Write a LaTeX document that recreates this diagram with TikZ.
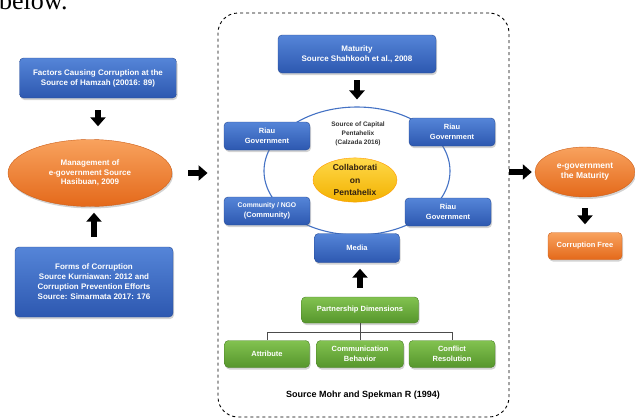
\documentclass[tikz,border=0pt]{standalone}
\usepackage{fontspec}
\setmainfont{Liberation Sans}
\newfontfamily\pageserif{Liberation Serif}
\usetikzlibrary{arrows.meta,shapes.geometric,shadows}

\definecolor{blueTop}{HTML}{5585D8}
\definecolor{blueBot}{HTML}{2D58B0}
\definecolor{orangeTop}{HTML}{F8A25E}
\definecolor{orangeBot}{HTML}{E4691A}
\definecolor{greenTop}{HTML}{82C250}
\definecolor{greenBot}{HTML}{56962C}
\definecolor{yellowTop}{HTML}{FFD94A}
\definecolor{yellowBot}{HTML}{F2B100}
\definecolor{ringBlue}{HTML}{4472C4}

\begin{document}
\begin{tikzpicture}[x=1pt,y=-1pt,
      big arrow/.style={line width=5.5pt,-{Triangle[length=9pt,width=15pt]}},
      soft shadow/.style={drop shadow={opacity=0.35,shadow xshift=1pt,shadow yshift=-2pt}},
      blue box/.style={rectangle,rounded corners=4pt,top color=blueTop,
      bottom color=blueBot,draw=blueBot!85!black,thin,soft shadow,text=white,
      align=center,inner sep=2pt,font=\bfseries\fontsize{8}{10}\selectfont},
      small blue/.style={blue box,minimum width=86pt,minimum height=28pt,
      font=\bfseries\fontsize{7.5}{10}\selectfont},
      green box/.style={blue box,top color=greenTop,bottom color=greenBot,
      draw=greenBot!85!black,minimum height=27pt,
      font=\bfseries\fontsize{7.5}{9.5}\selectfont},
      orange oval/.style={ellipse,top color=orangeTop,bottom color=orangeBot,
      draw=orangeBot!90!black,thin,soft shadow,text=white,align=center,
      inner sep=0pt,font=\bfseries\fontsize{8}{9.5}\selectfont}]

      \useasboundingbox (0,0) rectangle (635,418);

      %% THE PAGE TEXT ABOVE THE FIGURE (CUT OFF AT THE TOP)
      \node[anchor=base west,inner sep=0pt,font=\pageserif\fontsize{26}{26}\selectfont]
            (pagetext) at (-1,9) {below.};

      %% THE DASHED FRAME AND THE PENTAHELIX RING
      \node[draw,dashed,line width=0.9pt,rounded corners=20pt,minimum width=291pt,
            minimum height=404pt] (frame) at (363.5,215) {};
      \node[draw=ringBlue,line width=1.1pt,ellipse,minimum width=186pt,
            minimum height=128pt] (ring) at (357,171) {};

      %% THESE ARE THE NODES ON THE LEFT
      \node[blue box,minimum width=157pt,minimum height=40pt] (factors) at (98,78)
            {Factors Causing Corruption at the\\Source of Hamzah (20016: 89)};
      \node[orange oval,minimum width=164pt,minimum height=67pt] (mgmt) at (90,173)
            {Management of\\e-government Source\\Hasibuan, 2009};
      \node[blue box,minimum width=158pt,minimum height=70pt] (forms) at (94,282)
            {Forms of Corruption\\Source Kurniawan: 2012 and\\Corruption Prevention Efforts\\Source: Simarmata 2017: 176};

      %% THESE ARE THE NODES IN THE FRAME
      \node[blue box,minimum width=158pt,minimum height=38pt] (maturity) at (357,54)
            {Maturity\\Source Shahkooh et al., 2008};
      \node[small blue] (riauA) at (267,136) {Riau\\Government};
      \node[small blue] (riauB) at (452,132) {Riau\\Government};
      \node[small blue] (ngo) at (267,211)
            {\fontsize{6.8}{10}\selectfont Community / NGO\\(Community)};
      \node[small blue] (riauC) at (448,212) {Riau\\Government};
      \node[small blue,minimum width=85pt,minimum height=29pt] (media) at (357,248) {Media};
      \node[align=center,text=black!80,font=\bfseries\fontsize{6.5}{9}\selectfont]
            (capital) at (358,134) {Source of Capital\\Pentahelix\\(Calzada 2016)};
      \node[ellipse,top color=yellowTop,bottom color=yellowBot,draw=orange!80!yellow,
            thin,minimum width=84pt,minimum height=40pt,inner sep=0pt,align=center,
            text=black!75!brown,font=\bfseries\fontsize{8.5}{12.5}\selectfont]
            (collab) at (355,180) {Collaborati\\on\\Pentahelix};
      \node[green box,minimum width=117pt,minimum height=26pt] (part) at (360,310)
            {Partnership Dimensions};
      \node[green box,minimum width=85pt] (attr) at (267,354) {Attribute};
      \node[green box,minimum width=87pt] (comm) at (360,354) {Communication\\Behavior};
      \node[green box,minimum width=86pt] (conf) at (452,354) {Conflict\\Resolution};
      \node[font=\bfseries\fontsize{9}{11}\selectfont] (mohr) at (363,395)
            {Source Mohr and Spekman R (1994)};

      %% THESE ARE THE NODES ON THE RIGHT
      \node[orange oval,minimum width=100pt,minimum height=50pt,
            font=\bfseries\fontsize{8.5}{10}\selectfont] (egov) at (585,172)
            {e-government\\the Maturity};
      \node[blue box,top color=orangeTop,bottom color=orangeBot,draw=orangeBot!90!black,
            minimum width=74pt,minimum height=27pt,
            font=\bfseries\fontsize{7.5}{9}\selectfont] (free) at (585,246) {Corruption Free};

      %% THESE ARE THE BLOCK ARROWS
      \draw[big arrow,shorten <=12pt,shorten >=13pt]
            (factors.south) -- (factors.south |- mgmt.north);
      \draw[big arrow,shorten <=10pt,shorten >=6pt]
            (forms.north) -- (forms.north |- mgmt.south);
      \draw[big arrow,shorten <=16pt,shorten >=10pt]
            (mgmt.east) -- (mgmt.east -| frame.west);
      \draw[big arrow,shorten <=7pt,shorten >=7pt]
            (maturity.south) -- (maturity.south |- ring.north);
      \draw[big arrow,shorten <=9pt,shorten >=6pt]
            (part.north) -- (part.north |- media.south);
      \draw[big arrow,shorten >=3pt]
            (frame.east |- egov.west) -- (egov.west);
      \draw[big arrow,shorten <=11pt,shorten >=8pt]
            (egov.south) -- (egov.south |- free.north);

      %% THE TREE UNDER PARTNERSHIP DIMENSIONS
      \coordinate (bus) at ([yshift=-9pt]part.south);
      \draw[black!70,line width=0.8pt] (part.south) -- (bus)
            (bus) -| (attr.north)
            (bus) -| (conf.north)
            (bus) -- (comm.north);
\end{tikzpicture}
\end{document}
